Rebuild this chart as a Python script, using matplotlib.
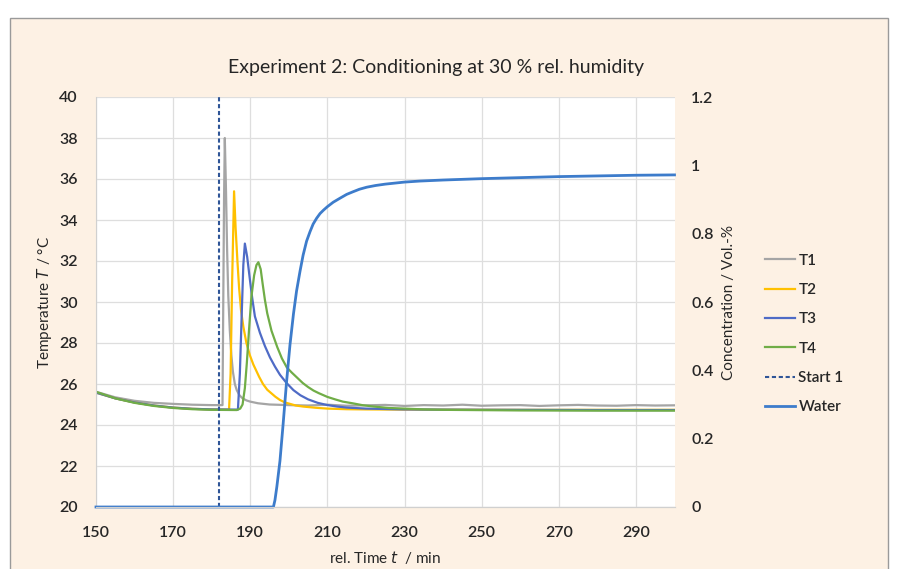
import numpy as np
import matplotlib
matplotlib.use('Agg')
import matplotlib.pyplot as plt
from matplotlib.patches import Rectangle

plt.rcParams['font.family'] = ['Lato', 'DejaVu Sans']

# --- data ---
t1_time = [150, 155, 160, 165, 170, 175, 180, 182.8, 183.0, 183.2, 183.4, 183.7, 184.0, 184.3, 184.7,
           185.1, 185.5, 186.0, 186.5, 187.2, 188, 189, 190, 192, 195, 200, 205, 210, 215, 220, 225,
           230, 235, 240, 245, 250, 255, 260, 265, 270, 275, 280, 285, 290, 295, 300]
t1_temp = [25.62, 25.35, 25.18, 25.08, 25.03, 24.99, 24.97, 24.97, 30.0, 35.0, 38.0, 35.5, 32.5, 30.3, 28.6,
           27.4, 26.6, 26.0, 25.7, 25.45, 25.3, 25.2, 25.14, 25.06, 25.0, 24.97, 24.95, 24.99, 24.94, 24.96,
           24.98, 24.93, 24.97, 24.95, 24.99, 24.94, 24.96, 24.97, 24.93, 24.96, 24.98, 24.95, 24.94, 24.97,
           24.95, 24.96]

t2_time = [150, 155, 160, 165, 170, 175, 180, 184.5, 184.9, 185.3, 185.8, 186.2, 186.7, 187.1, 187.6,
           188.2, 189.0, 189.9, 190.8, 192.3, 193.3, 194.4, 196.5, 197.7, 199.0, 201.8, 203.7, 207, 210,
           215, 220, 230, 240, 260, 280, 300]
t2_temp = [25.58, 25.3, 25.1, 24.95, 24.85, 24.79, 24.76, 24.75, 26.5, 31.0, 35.4, 33.6, 31.9, 30.7, 29.6,
           28.8, 28.0, 27.4, 26.95, 26.35, 26.0, 25.72, 25.38, 25.22, 25.1, 24.95, 24.9, 24.84, 24.8,
           24.77, 24.76, 24.75, 24.75, 24.74, 24.74, 24.74]

t3_time = [150, 155, 160, 165, 170, 175, 180, 186.8, 187.3, 187.8, 188.2, 188.6, 189.2, 189.9, 190.5,
           191.2, 192.5, 193.8, 195.1, 196.4, 197.7, 199.4, 201.2, 203.0, 205, 207.5, 209.8, 212.5, 215,
           220, 230, 240, 260, 280, 300]
t3_temp = [25.58, 25.3, 25.1, 24.95, 24.85, 24.79, 24.76, 24.75, 26.5, 29.5, 31.8, 32.85, 32.2, 31.1, 30.2,
           29.3, 28.5, 27.85, 27.3, 26.85, 26.45, 26.05, 25.7, 25.45, 25.25, 25.08, 24.98, 24.9, 24.85,
           24.8, 24.76, 24.75, 24.74, 24.73, 24.73]

t4_time = [150, 155, 160, 165, 170, 175, 180, 186.5, 187.4, 188.0, 188.6, 189.1, 189.7, 190.3, 191.0,
           191.6, 192.1, 192.7, 193.2, 193.8, 194.4, 195.5, 197.0, 198.2, 199.5, 200.8, 202.2, 203.6, 205,
           206.4, 207.8, 210, 212, 214, 216.5, 219, 222, 226, 230, 235, 240, 260, 280, 300]
t4_temp = [25.62, 25.3, 25.08, 24.93, 24.83, 24.77, 24.74, 24.73, 24.8, 25.0, 25.8, 27.0, 28.7, 30.26, 31.3,
           31.8, 31.94, 31.6, 30.9, 30.1, 29.45, 28.6, 27.8, 27.25, 26.8, 26.55, 26.3, 26.05, 25.85,
           25.68, 25.55, 25.37, 25.25, 25.14, 25.06, 24.97, 24.9, 24.83, 24.8, 24.76, 24.74, 24.71, 24.7,
           24.7]

start_time = 182.0

water_time = [150, 196.0, 196.4, 196.9, 197.7, 198.5, 199.4, 200.3, 201.2, 202.0, 202.9, 203.7, 204.6,
              205.5, 206.3, 207.2, 208.1, 209.0, 210, 211.5, 213.3, 215, 216.5, 218.3, 220.2, 222.5,
              225, 227.5, 230, 234, 240, 250, 260, 270, 280, 290, 300]
water_conc = [0, 0, 0.02, 0.06, 0.135, 0.24, 0.365, 0.475, 0.565, 0.632, 0.69, 0.737, 0.778,
              0.806, 0.828, 0.845, 0.859, 0.869, 0.879, 0.892, 0.904, 0.915, 0.922, 0.93, 0.936, 0.941,
              0.945, 0.948, 0.951, 0.954, 0.957, 0.961, 0.964, 0.967, 0.969, 0.971, 0.972]

x_ticks = [150, 170, 190, 210, 230, 250, 270, 290]
y_ticks = list(range(20, 41, 2))
y2_ticks = [0, 0.2, 0.4, 0.6, 0.8, 1.0, 1.2]
y2_labels = ['0', '0.2', '0.4', '0.6', '0.8', '1', '1.2']

# --- figure ---
fig = plt.figure(figsize=(9.08, 5.69), dpi=100)
fig.patch.set_facecolor('white')
fig.patches.append(Rectangle((10 / 908, -0.01), 878 / 908, 1 - 18 / 569 + 0.01,
                             transform=fig.transFigure, facecolor='#fdf1e4',
                             edgecolor='#9a9a9a', linewidth=1.0, zorder=-10))

ax = fig.add_axes([96 / 908, 1 - 507 / 569, 578.5 / 908, 410 / 569])
ax.set_facecolor('white')
ax2 = ax.twinx()

tick_color = '#262626'
ax.plot(t1_time, t1_temp, color='#a5a5a5', lw=1.6, label='T1')
ax.plot(t2_time, t2_temp, color='#ffc000', lw=1.6, label='T2')
ax.plot(t3_time, t3_temp, color='#4f6bc6', lw=1.6, label='T3')
ax.plot(t4_time, t4_temp, color='#70ad47', lw=1.6, label='T4')
ax.axvline(start_time, color='#2f5597', lw=1.5, ls=(0, (2, 1.3)), label='Start 1')
ax2.plot(water_time, water_conc, color='#3d7ccb', lw=2.0, label='Water', clip_on=False)

ax.set_xlim(150, 300)
ax.set_ylim(20, 40)
ax2.set_ylim(0, 1.2)
ax.set_xticks(x_ticks)
ax.set_yticks(y_ticks)
ax2.set_yticks(y2_ticks)
ax2.set_yticklabels(y2_labels)

ax.grid(True, color='#dedede', lw=0.9)
ax.set_axisbelow(True)
for a in (ax, ax2):
    for s in ('top', 'right'):
        a.spines[s].set_visible(False)
    a.spines['left'].set_visible(False)
    a.spines['bottom'].set_color('#d0d0d0')
ax.spines['left'].set_visible(True)
ax.spines['left'].set_color('#d0d0d0')

ax.tick_params(axis='both', length=0, labelsize=11.5, colors=tick_color)
ax.tick_params(axis='y', pad=13)
ax.tick_params(axis='x', pad=14)
ax2.tick_params(axis='y', length=0, labelsize=11.5, colors=tick_color, pad=12)
for lbl in ax.get_xticklabels() + ax.get_yticklabels() + ax2.get_yticklabels():
    lbl.set_fontweight('semibold')

ax.set_xlabel('rel. Time $\\mathit{t}$  / min', fontsize=11, color='#262626', labelpad=6)
ax.set_ylabel('Temperature $\\mathit{T}$ / °C', fontsize=11, color='#262626', labelpad=4)
ax2.set_ylabel('Concentration / Vol.-%', fontsize=11, color='#262626', labelpad=6)

fig.text(436 / 908, 1 - 67 / 569, 'Experiment 2: Conditioning at 30 % rel. humidity',
         ha='center', va='center', fontsize=14, color='#262626')

h1, l1 = ax.get_legend_handles_labels()
h2, l2 = ax2.get_legend_handles_labels()
leg = fig.legend(h1 + h2, l1 + l2, loc='upper left', bbox_to_anchor=(751 / 908, 1 - 240 / 569),
                 frameon=False, fontsize=11, handlelength=2.0, handletextpad=0.2,
                 labelspacing=1.0, labelcolor='#262626')
for txt in leg.get_texts():
    txt.set_fontweight('semibold')

fig.savefig('out.png', dpi=100)
